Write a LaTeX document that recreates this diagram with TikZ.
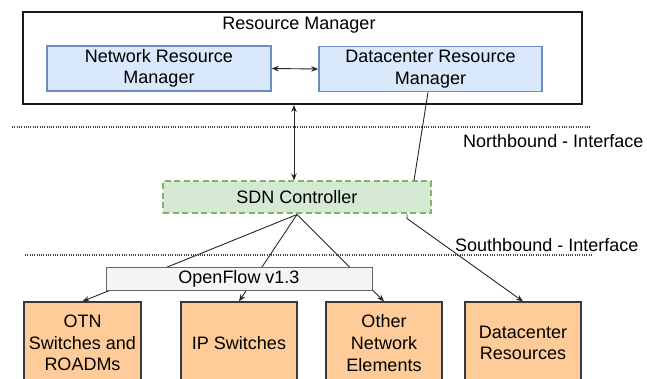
\documentclass[tikz,border=0pt]{standalone}
\usepackage{fontspec}
\setmainfont{Liberation Sans}
\usetikzlibrary{arrows.meta,backgrounds}

\definecolor{bluefill}{HTML}{DAE8FC}
\definecolor{blueline}{HTML}{6C8EBF}
\definecolor{greenfill}{HTML}{D5E8D4}
\definecolor{greenline}{HTML}{82B366}
\definecolor{grayfill}{HTML}{F5F5F5}
\definecolor{grayline}{HTML}{666666}
\definecolor{orangefill}{HTML}{FFCC99}
\definecolor{orangeline}{HTML}{36393D}
\definecolor{sepline}{HTML}{444444}

\tikzset{
  txt/.style={font=\fontsize{18}{21.6}\selectfont, align=center, text=black, inner sep=0pt},
  box/.style={txt, rectangle, minimum width=#1, inner sep=0pt},
  outerbox/.style={rectangle, draw=black!90, line width=2pt, fill=white, inner sep=0pt},
  bluebox/.style={box=#1, draw=blueline, fill=bluefill, line width=1.6pt, minimum height=45pt},
  sdnbox/.style={box=#1, draw=greenline, fill=greenfill, line width=2pt,
    dash pattern=on 6pt off 3.5pt, minimum height=32pt},
  ofbox/.style={box=#1, draw=grayline, fill=grayfill, line width=1pt, minimum height=23pt},
  devbox/.style={box=#1, draw=orangeline, fill=orangefill, line width=1.2pt, minimum height=82pt},
  conn/.style={draw=black!85, line width=0.9pt},
  arr/.style={conn, -{Stealth[length=7pt,width=5.5pt]}},
  biarr/.style={conn, {Stealth[length=7pt,width=5.5pt]}-{Stealth[length=7pt,width=5.5pt]}},
  separator/.style={draw=sepline, line width=1.8pt, dash pattern=on 1pt off 1.3pt},
}

\begin{document}
\begin{tikzpicture}[x=1pt, y=-1pt]
  \useasboundingbox (0,0) rectangle (647,379);
  \clip (0,0) rectangle (647,379);

  % Resource manager with its two sub-managers
  \node[outerbox, minimum width=559pt, minimum height=92pt] (rm) at (302.5,58) {};
  \node[txt] (rmlabel) at (299,25) {Resource Manager};
  \node[bluebox=224pt] (nrm) at (159,68.5) {Network Resource\\Manager};
  \node[bluebox=223pt] (drm) at (430.5,69) {Datacenter Resource\\Manager};

  % interface separators
  \coordinate (nbL) at (12,127);
  \coordinate (nbR) at (591,127);
  \coordinate (sbL) at (25,255);
  \coordinate (sbR) at (591,255);
  \draw[separator] (nbL) -- (nbR);
  \draw[separator] (sbL) -- (sbR);
  \node[txt, anchor=west] (nblabel) at (463,141) {Northbound - Interface};
  \node[txt, anchor=west] (sblabel) at (455,245) {Southbound - Interface};

  % controller and protocol layer
  \node[sdnbox=268pt] (sdn) at (297,197.5) {SDN Controller};
  \node[ofbox=266pt] (of) at (239,278.5) {OpenFlow v1.3};

  % managed resources
  \node[devbox=117pt] (otn) at (82.5,343) {OTN\\Switches and\\ROADMs};
  \node[devbox=116pt] (ip) at (239,343) {IP Switches};
  \node[devbox=116pt] (other) at (384,343) {Other\\Network\\Elements};
  \node[devbox=116pt] (dcr) at (523,343) {Datacenter\\Resources};

  % connectors
  \draw[biarr] (nrm.east) -- (drm.west);
  \coordinate (vx) at (294,150);
  \draw[biarr] (rm.south -| vx) -- (sdn.north -| vx);
  \draw[conn] ([xshift=-2.5pt]drm.south) -- ([xshift=117pt]sdn.north);
  \draw[arr] ([xshift=110pt]sdn.south) -- ++(0,4) -- (dcr.north);

  \begin{pgfonlayer}{background}
    \draw[arr] (sdn.south) -- (otn.north);
    \draw[arr] (sdn.south) -- (ip.north);
    \draw[arr] (sdn.south) -- (other.north);
  \end{pgfonlayer}
\end{tikzpicture}
\end{document}
